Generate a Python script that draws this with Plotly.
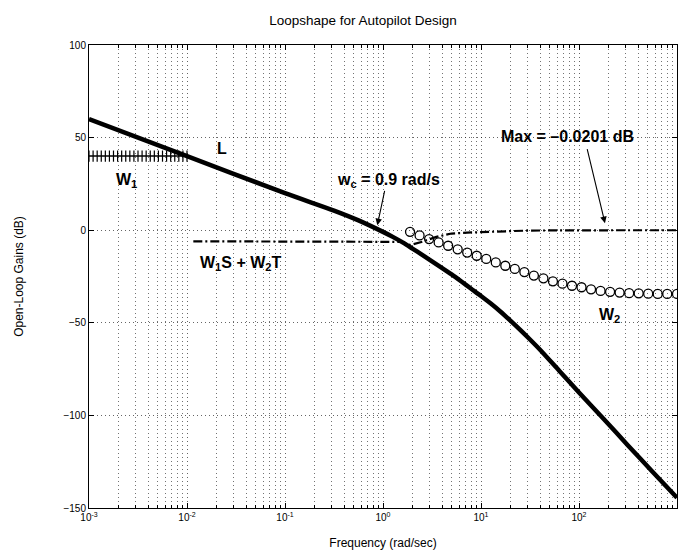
import plotly.graph_objects as go

# ---- data ----
L_freq = [0.001, 0.01, 0.1, 0.3162, 0.5623, 1.0, 1.259, 1.585, 1.995, 2.512, 3.162, 3.981, 5.012,
          6.310, 7.943, 10.0, 12.59, 15.85, 19.95, 25.12, 31.62, 39.81, 63.10, 100.0, 177.8,
          316.2, 562.3, 1000.0]
L_db   = [60, 40, 20, 10.6, 5.3, -0.9, -3.6, -6.6, -9.9, -13.3, -16.8, -20.3, -23.9,
          -27.7, -31.6, -35.5, -39.6, -44.0, -48.8, -53.8, -59.0, -64.4, -76.0, -87.6, -101.8,
          -116.2, -130.4, -144.5]

W1_freq = [0.001000, 0.001101, 0.001212, 0.001334, 0.001468, 0.001616, 0.001778, 0.001957,
           0.002154, 0.002371, 0.002610, 0.002873, 0.003162, 0.003481, 0.003831, 0.004217,
           0.004642, 0.005109, 0.005623, 0.006190, 0.006813, 0.007499, 0.008254, 0.009085, 0.010000]
W1_db = [40] * 25

W2_freq = [1.888, 2.362, 2.954, 3.695, 4.622, 5.781, 7.231, 9.045, 11.31, 14.15, 17.70, 22.14,
           27.70, 34.64, 43.34, 54.20, 67.80, 84.81, 106.1, 132.7, 166.0, 207.6, 259.7, 324.9,
           406.4, 508.2, 635.7, 795.2, 1000]
W2_db = [-0.9, -2.8, -4.8, -6.6, -8.4, -10.3, -12.1, -13.8, -15.5, -17.4, -19.2, -20.9,
         -22.6, -24.5, -26.0, -27.6, -28.9, -30.0, -30.8, -31.9, -32.8, -33.3, -33.7, -34.0,
         -34.1, -34.3, -34.4, -34.4, -34.4]

WS_freq = [0.0116, 0.1, 1.0, 1.56, 1.9, 2.2, 2.6, 3.5, 5.0, 8.0, 15, 30, 100, 1000]
WS_db   = [-6.0, -6.1, -6.2, -6.3, -8.0, -7.2, -6.0, -3.6, -1.8, -1.2, -0.6, -0.2, -0.05, -0.02]

x_tickvals = [0.001, 0.01, 0.1, 1, 10, 100, 1000]
x_ticktext = ["10<sup>-3</sup>", "10<sup>-2</sup>", "10<sup>-1</sup>", "10<sup>0</sup>",
              "10<sup>1</sup>", "10<sup>2</sup>", "10<sup>3</sup>"]
x_minor = [m * d for d in [0.001, 0.01, 0.1, 1, 10, 100] for m in range(2, 10)]
y_tickvals = [-150, -100, -50, 0, 50, 100]

FONT = "Liberation Sans, Arial, Helvetica, sans-serif"

fig = go.Figure()

fig.add_trace(go.Scatter(x=WS_freq, y=WS_db, mode="lines",
                         line=dict(color="black", width=2.2, dash="9px,3px,2px,3px")))
fig.add_trace(go.Scatter(x=W2_freq, y=W2_db, mode="markers",
                         marker=dict(symbol="circle-open", size=9, color="black",
                                     line=dict(width=1.3, color="black"))))
fig.add_trace(go.Scatter(x=W1_freq, y=W1_db, mode="lines+markers",
                         line=dict(color="black", width=1.5),
                         marker=dict(symbol="line-ns", size=8, color="black",
                                     line=dict(width=1.2, color="black"))))
fig.add_trace(go.Scatter(x=L_freq, y=L_db, mode="lines", line_shape="spline",
                         line=dict(color="black", width=4.5, smoothing=0.8)))

ann_font = dict(family=FONT, size=16, color="black")
anns = [
    dict(x=-1.64, y=44, text="<b>L</b>"),
    dict(x=-2.62, y=27, text="<b>W<sub>1</sub></b>"),
    dict(x=-1.45, y=-18, text="<b>W<sub>1</sub>S + W<sub>2</sub>T</b>"),
    dict(x=0.06, y=27, text="<b>w<sub>c</sub> = 0.9 rad/s</b>"),
    dict(x=1.88, y=50.5, text="<b>Max = –0.0201 dB</b>"),
    dict(x=2.31, y=-46, text="<b>W<sub>2</sub></b>"),
]
for a in anns:
    fig.add_annotation(xref="x", yref="y", showarrow=False, font=ann_font,
                       xanchor="center", yanchor="middle", **a)

# arrows
fig.add_annotation(xref="x", yref="y", axref="x", ayref="y",
                   x=-0.058, y=2.7, ax=0.02, ay=22, text="", showarrow=True,
                   arrowhead=2, arrowsize=1.2, arrowwidth=1.1, arrowcolor="black")
fig.add_annotation(xref="x", yref="y", axref="x", ayref="y",
                   x=2.265, y=3.8, ax=2.08, ay=44.6, text="", showarrow=True,
                   arrowhead=2, arrowsize=1.2, arrowwidth=1.1, arrowcolor="black")

axis_common = dict(showline=True, linecolor="black", linewidth=1, mirror="ticks",
                   ticks="inside", ticklen=5, tickcolor="black",
                   tickfont=dict(family=FONT, size=10, color="black"),
                   zeroline=False, showgrid=True, gridcolor="rgba(0,0,0,0.6)",
                   gridwidth=1, griddash="1px,3px")

fig.update_xaxes(type="log", range=[-3, 3], tickvals=x_tickvals, ticktext=x_ticktext,
                 minor=dict(tickmode="array", tickvals=x_minor, showgrid=True,
                            gridcolor="rgba(0,0,0,0.55)", griddash="1px,3px",
                            gridwidth=1, ticks="inside", ticklen=3, tickcolor="black"),
                 title=dict(text="Frequency (rad/sec)", font=dict(family=FONT, size=12, color="black"),
                            standoff=16),
                 **axis_common)
fig.update_yaxes(range=[-150, 100], tickvals=y_tickvals,
                 title=dict(text="Open-Loop Gains (dB)", font=dict(family=FONT, size=12, color="black"),
                            standoff=37),
                 **axis_common)

fig.update_layout(
    width=681, height=557,
    margin=dict(l=89, r=4, t=45, b=49),
    paper_bgcolor="white", plot_bgcolor="white",
    showlegend=False,
    title=dict(text="Loopshape for Autopilot Design", x=0.533, xanchor="center",
               y=0.964, yanchor="middle", font=dict(family=FONT, size=13.5, color="black")),
)

fig.write_html("out.html")
